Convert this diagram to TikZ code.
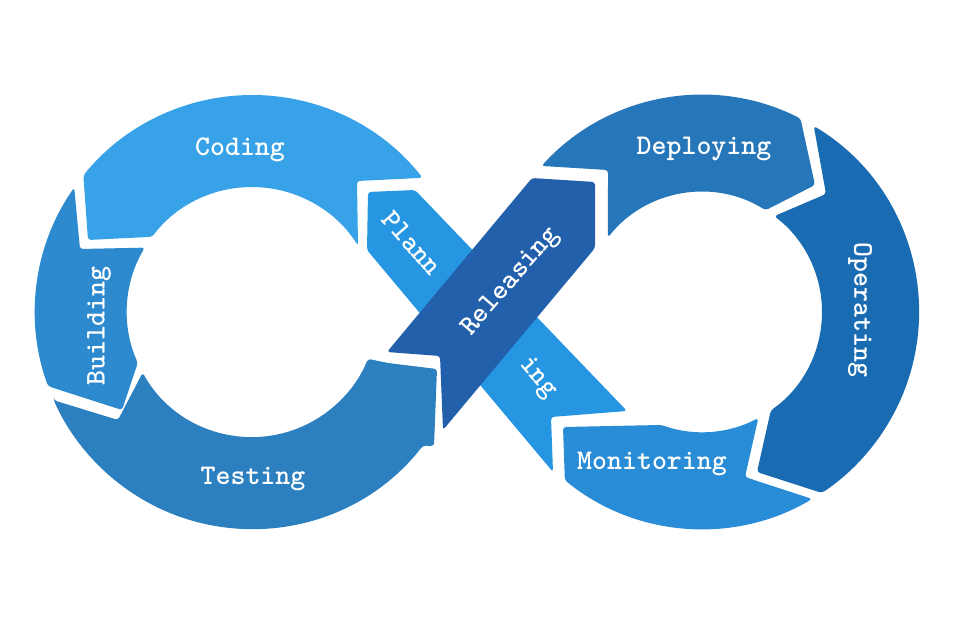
\documentclass[tikz,border=0pt]{standalone}
\definecolor{codingc}{RGB}{55,162,232}
\definecolor{buildingc}{RGB}{46,138,207}
\definecolor{testingc}{RGB}{45,128,192}
\definecolor{planningc}{RGB}{38,150,226}
\definecolor{releasingc}{RGB}{35,96,172}
\definecolor{deployingc}{RGB}{38,118,186}
\definecolor{operatingc}{RGB}{25,108,178}
\definecolor{monitoringc}{RGB}{40,140,215}
\begin{document}
\begin{tikzpicture}[x=1pt,y=-1pt,
  seg/.style={rounded corners=3pt},
  lbl/.style={text=white, font=\fontsize{28.5}{28.5}\selectfont\ttfamily\bfseries, inner sep=0pt}]
\useasboundingbox (0,0) rectangle (960,640);
\fill[white] (0,0) rectangle (960,640);
\coordinate (CL) at (252,312);
\coordinate (CR) at (702,312);
% ---- left ring ----
\fill[codingc, seg] (357,181) -- ([shift={(CL)}]-38.2:217) arc[start angle=-38.2, end angle=-141, radius=217]
  -- (88,240) -- ([shift={(CL)}]-143:125) arc[start angle=-143, end angle=-32, radius=125] -- cycle;
\fill[buildingc, seg] ([shift={(CL)}]-145:217) arc[start angle=-145, end angle=-200, radius=217]
  -- (122,410) -- ([shift={(CL)}]-204:125) arc[start angle=-204, end angle=-149, radius=125]
  -- (80,249) -- cycle;
\fill[testingc, seg] ([shift={(CL)}]156:217) -- (118,420) -- ([shift={(CL)}]151:125)
  arc[start angle=151, end angle=22, radius=125] -- (388,363) -- (437,369) -- (434,446)
  -- ([shift={(CL)}]38:217) arc[start angle=38, end angle=156, radius=217] -- cycle;
% ---- crossing ----
\fill[planningc, seg] (368,192) -- (415,190) -- (627,411) -- (551,417) -- (553,472) -- (367,250) -- cycle;
\fill[releasingc, seg] (387,352) -- (532,178) -- (595,182) -- (595,248) -- (443,430) -- (440,356) -- cycle;
% ---- right ring ----
\fill[deployingc, seg] ([shift={(CR)}]-137.7:217) arc[start angle=-137.7, end angle=-63, radius=217]
  -- (815,185) -- ([shift={(CR)}]-58:120) arc[start angle=-58, end angle=-141.6, radius=120]
  -- (608,170) -- cycle;
\fill[operatingc, seg] ([shift={(CR)}]-59:217) arc[start angle=-59, end angle=56.5, radius=217]
  -- (757,472) -- ([shift={(CR)}]55:120) arc[start angle=55, end angle=-53, radius=120]
  -- (826,194) -- cycle;
\fill[monitoringc, seg] ([shift={(CR)}]59.5:217) arc[start angle=59.5, end angle=129.2, radius=217]
  -- (563,427) -- ([shift={(CR)}]109.7:120) arc[start angle=109.7, end angle=62, radius=120]
  -- (745,477) -- cycle;
% ---- labels ----
\node[lbl] (coding) at (240,150) {Coding};
\node[lbl, rotate=90] (building) at (99,326) {Building};
\node[lbl] (testing) at (253,479) {Testing};
\node[lbl, rotate=-49] (plann) at (412,243) {Plann};
\node[lbl, rotate=-49] (ing) at (538,378) {ing};
\node[lbl, rotate=49] (releasing) at (511,282) {Releasing};
\node[lbl] (deploying) at (704,149) {Deploying};
\node[lbl, rotate=-90] (operating) at (860,310) {Operating};
\node[lbl] (monitoring) at (652,464) {Monitoring};
\end{tikzpicture}
\end{document}
